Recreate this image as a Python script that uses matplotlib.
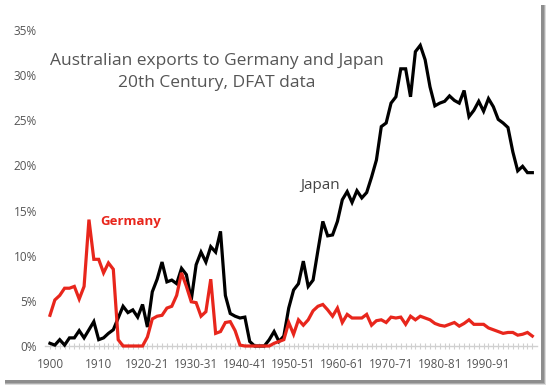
import matplotlib
matplotlib.use('Agg')
import matplotlib.pyplot as plt
from matplotlib.patches import Rectangle

# Share of Australian exports (%), 1900 .. 1999-2000
germany = [3.4, 5.1, 5.6, 6.4, 6.4, 6.6, 5.2, 6.6, 14.0, 9.6,
           9.6, 8.1, 9.2, 8.5, 0.7, 0, 0, 0, 0, 0,
           1.0, 3.0, 3.3, 3.4, 4.2, 4.4, 5.6, 8.1, 6.6, 4.9,
           4.8, 3.3, 3.8, 7.4, 1.4, 1.6, 2.6, 2.7, 1.7, 0.1,
           0, 0, 0, 0, 0, 0, 0.3, 0.5, 0.7, 2.6,
           1.3, 2.9, 2.3, 2.9, 3.9, 4.4, 4.6, 4.0, 3.3, 4.2,
           2.6, 3.5, 3.1, 3.1, 3.1, 3.5, 2.3, 2.8, 2.9, 2.6,
           3.2, 3.1, 3.2, 2.4, 3.3, 2.9, 3.3, 3.1, 2.9, 2.5,
           2.3, 2.2, 2.4, 2.6, 2.2, 2.5, 2.9, 2.4, 2.4, 2.4,
           2.0, 1.8, 1.6, 1.4, 1.5, 1.5, 1.2, 1.3, 1.5, 1.1]
japan = [0.3, 0.1, 0.7, 0.1, 0.9, 0.9, 1.7, 0.9, 1.8, 2.7,
         0.7, 0.9, 1.4, 1.8, 3.1, 4.4, 3.7, 4.0, 3.2, 4.6,
         2.1, 6.0, 7.4, 9.3, 7.1, 7.3, 6.9, 8.6, 7.9, 5.1,
         9.0, 10.4, 9.3, 11.0, 10.4, 12.7, 5.6, 3.6, 3.3, 3.1,
         3.2, 0.5, 0, 0, 0, 0.7, 1.6, 0.5, 1.1, 4.2,
         6.2, 6.9, 9.4, 6.6, 7.3, 10.6, 13.8, 12.2, 12.3, 13.8,
         16.2, 17.1, 15.9, 17.2, 16.4, 17.0, 18.7, 20.6, 24.3, 24.7,
         26.9, 27.6, 30.7, 30.7, 27.6, 32.6, 33.3, 31.7, 28.7, 26.6,
         26.9, 27.1, 27.7, 27.2, 26.9, 28.3, 25.4, 26.1, 27.1, 26.0,
         27.4, 26.5, 25.1, 24.7, 24.2, 21.5, 19.4, 19.9, 19.2, 19.2]
tick_labels = ['1900', '1910', '1920-21', '1930-31', '1940-41',
               '1950-51', '1960-61', '1970-71', '1980-81', '1990-91']
y_ticks = [0, 5, 10, 15, 20, 25, 30, 35]

plt.rcParams['font.family'] = ['Open Sans', 'DejaVu Sans']

W, H = 550, 387
fig = plt.figure(figsize=(W / 100, H / 100), dpi=100)
fig.patch.set_facecolor('white')

# drop shadow behind the white panel
for off, a in [(5, 0.25), (4, 0.45), (3, 0.6)]:
    fig.patches.append(Rectangle((5 / W, (H - 380 - off) / H), (536 + off) / W, (375 + off) / H,
                                 transform=fig.transFigure, facecolor='#777777',
                                 alpha=a, edgecolor='none', zorder=0))
fig.patches.append(Rectangle((0, (H - 380) / H), 541 / W, 380 / H,
                             transform=fig.transFigure, facecolor='white',
                             edgecolor='none', zorder=1))

ax = fig.add_axes([45.1 / W, (H - 346) / H, 492.1 / W, 316 / H])
ax.set_zorder(2)
ax.set_facecolor('none')
x = list(range(len(japan)))
ax.plot(x, japan, color='black', lw=2.3, solid_joinstyle='miter', zorder=3, clip_on=False)
ax.plot(x, germany, color='#e8261c', lw=2.3, solid_joinstyle='miter', zorder=4, clip_on=False)

ax.set_xlim(-1, 100)
ax.set_ylim(0, 35)
ax.set_yticks(y_ticks)
ax.set_yticklabels([f'{v}%' for v in y_ticks])
ax.set_xticks(range(0, 100, 10))
ax.set_xticklabels(tick_labels)
ax.set_xticks(range(0, 100), minor=True)

for s in ['top', 'right', 'left']:
    ax.spines[s].set_visible(False)
ax.spines['bottom'].set_color('#d0d0d0')
ax.spines['bottom'].set_linewidth(1)
ax.tick_params(axis='y', length=0, pad=6, labelsize=8.5, labelcolor='#555555')
ax.tick_params(axis='x', which='both', direction='inout', length=5, width=0.8,
               color='#d0d0d0', pad=6, labelsize=8.5, labelcolor='#555555')

fig.text(217 / W, 1 - 72 / H, 'Australian exports to Germany and Japan\n20th Century, DFAT data',
         ha='center', va='center', fontsize=12.5, color='#555555', linespacing=1.45,
         zorder=5)
ax.text(16.6, 13.8, 'Germany', color='#e8261c', fontsize=9.5, fontweight='bold',
        ha='center', va='center')
ax.text(55.4, 17.8, 'Japan', color='#444444', fontsize=11, ha='center', va='center')

fig.savefig('out.png', dpi=100)
